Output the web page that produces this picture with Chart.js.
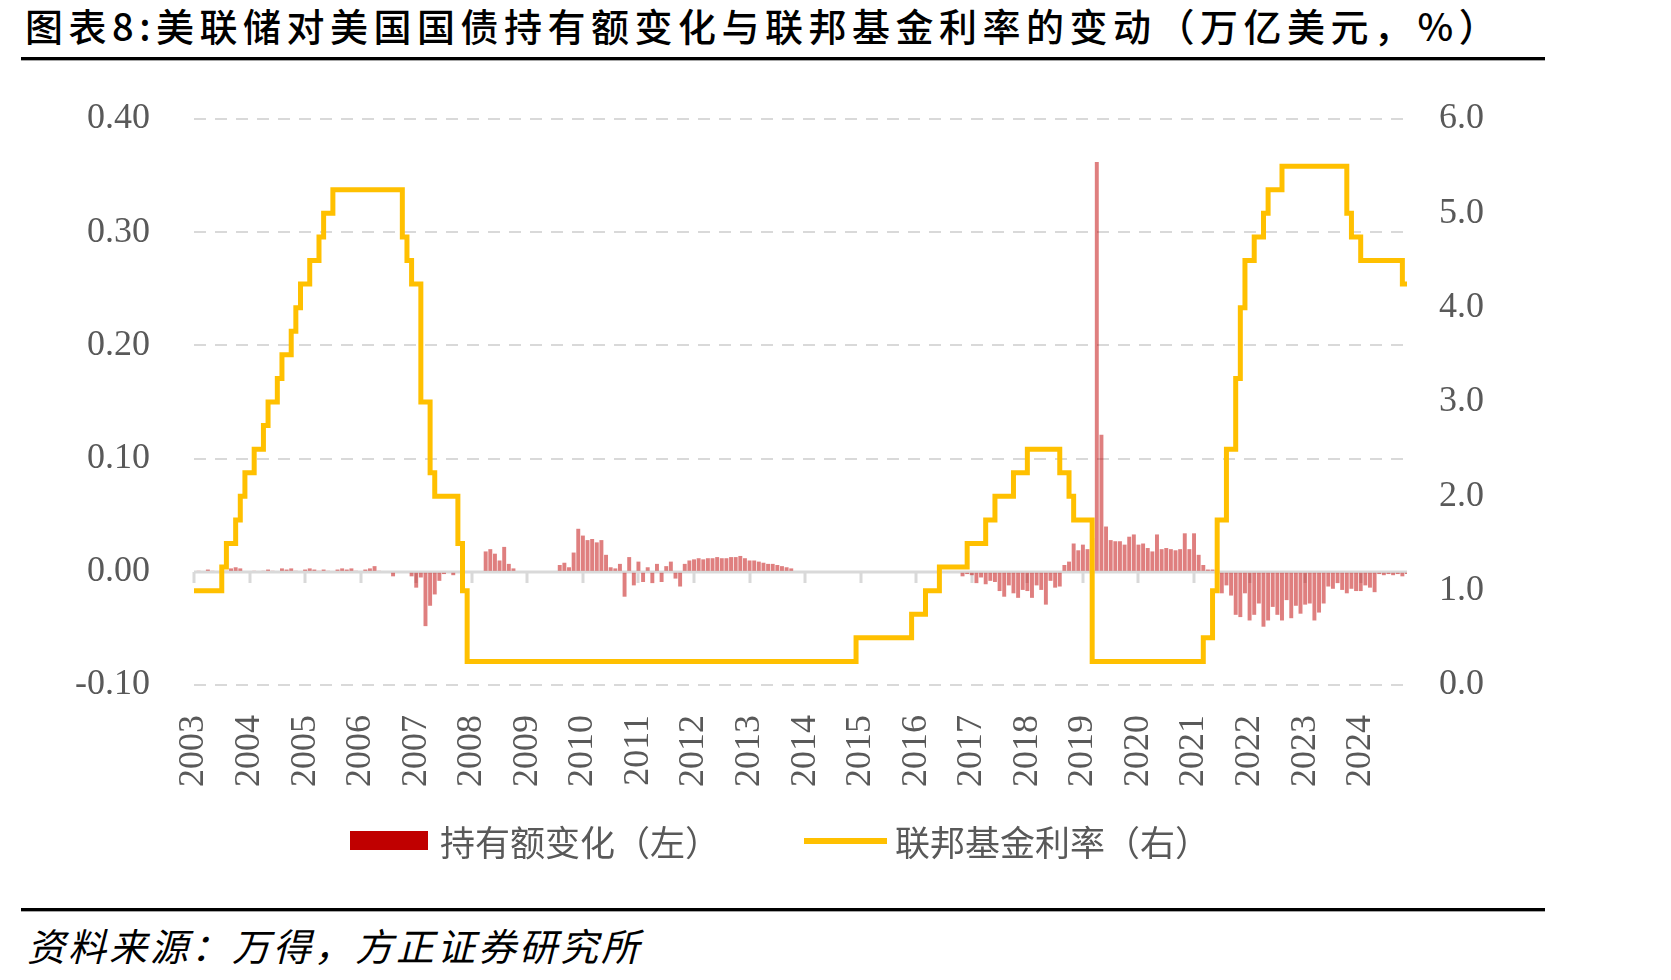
<!DOCTYPE html>
<html>
<head>
<meta charset="utf-8">
<script src="https://cdn.jsdelivr.net/npm/chart.js@4.4.1/dist/chart.umd.min.js"></script>
<style>
  body { margin: 0; width: 1671px; height: 980px; background: #fff; position: relative; overflow: hidden;
         font-family: "Noto Sans CJK SC", sans-serif; }
  #title { position: absolute; left: 25px; top: 6px; font-size: 38px; line-height: 38px; letter-spacing: 5.5px;
           font-weight: 500; color: #000; white-space: nowrap; }
  .rule { position: absolute; left: 21px; width: 1524px; height: 3px; background: #000; border-bottom: 1px solid #a6a6a6; }
  #chart { position: absolute; left: 0; top: 0; }
  .key { position: absolute; }
  .keyText { position: absolute; top: 823px; font-size: 35px; line-height: 35px; color: #595959; white-space: nowrap; }
  #source { position: absolute; left: 27px; top: 926px; font-size: 38px; line-height: 38px; letter-spacing: 3px;
            font-style: italic; color: #000; white-space: nowrap; }
</style>
</head>
<body>
<div id="title">图表8:美联储对美国国债持有额变化与联邦基金利率的变动（万亿美元，%）</div>
<div class="rule" style="top:57px"></div>
<canvas id="chart" width="1671" height="832"></canvas>
<div class="key" style="left:350px; top:831px; width:78px; height:19px; background:#C00000"></div>
<div class="keyText" style="left:440px">持有额变化（左）</div>
<div class="key" style="left:804px; top:838px; width:83px; height:6px; background:#FFC000"></div>
<div class="keyText" style="left:895px">联邦基金利率（右）</div>
<div class="rule" style="top:908px"></div>
<div id="source">资料来源：万得，方正证券研究所</div>

<script>
// year tick labels, one every 12 months
const yearLabels = ['2003', '2004', '2005', '2006', '2007', '2008', '2009', '2010', '2011', '2012', '2013',
  '2014', '2015', '2016', '2017', '2018', '2019', '2020', '2021', '2022', '2023', '2024'];

// change in Fed treasury holdings, trillion USD (one value per month)
const holdingsChange = [
  0.001, 0.001, 0, 0.002, 0.001, 0, 0.001, 0.001, 0.003, 0.004, 0.003, 0,
  0, 0.001, 0, 0.001, 0.002, 0.001, 0, 0.003, 0.002, 0.003, 0.001, 0,
  0.002, 0.003, 0.002, 0.001, 0.002, 0.001, 0, 0.002, 0.003, 0.002, 0.003, 0.001,
  0, 0.002, 0.003, 0.005, 0.001, 0, 0, -0.004, 0, 0, 0, -0.004,
  -0.014, -0.005, -0.048, -0.03, -0.02, -0.008, -0.002, 0, -0.003, 0, 0, 0,
  0, 0, 0, 0.018, 0.02, 0.016, 0.01, 0.022, 0.007, 0.003, 0, 0,
  0, 0, 0, 0, 0, 0, 0, 0.006, 0.008, 0.004, 0.017, 0.038,
  0.032, 0.028, 0.029, 0.026, 0.028, 0.015, 0.004, 0.003, 0.007, -0.022, 0.013, -0.012,
  0.009, -0.009, 0.004, -0.01, 0.007, -0.009, 0.005, 0.009, -0.006, -0.013, 0.007, 0.01,
  0.011, 0.012, 0.011, 0.012, 0.012, 0.013, 0.012, 0.012, 0.013, 0.013, 0.014, 0.012,
  0.01, 0.01, 0.009, 0.008, 0.007, 0.007, 0.006, 0.005, 0.004, 0.003, 0, 0,
  0, 0, 0, 0, 0, 0, 0, 0, 0, 0, 0, 0,
  0, 0, 0, 0, 0, 0, 0, 0, 0, 0, 0, 0,
  0, 0, 0, 0, 0, 0, 0, 0, 0, 0, -0.004, -0.002,
  -0.003, -0.01, -0.005, -0.011, -0.008, -0.009, -0.017, -0.022, -0.012, -0.019, -0.023, -0.016,
  -0.017, -0.023, -0.012, -0.016, -0.029, -0.008, -0.014, -0.013, 0.006, 0.009, 0.025, 0.019,
  0.024, 0.02, 0.03, 0.362, 0.121, 0.04, 0.028, 0.027, 0.027, 0.024, 0.031, 0.033,
  0.024, 0.025, 0.021, 0.018, 0.033, 0.02, 0.021, 0.02, 0.019, 0.02, 0.034, 0.02,
  0.034, 0.015, 0.006, 0.002, 0.002, 0.001, -0.019, -0.012, -0.021, -0.038, -0.04, -0.019,
  -0.043, -0.038, -0.028, -0.0485, -0.043, -0.031, -0.038, -0.043, -0.025, -0.041, -0.03, -0.037,
  -0.029, -0.028, -0.043, -0.036, -0.028, -0.013, -0.015, -0.01, -0.016, -0.019, -0.015, -0.017,
  -0.017, -0.012, -0.014, -0.018, -0.002, -0.003, -0.002, -0.003, -0.002, -0.004, -0.002
];

// federal funds target rate (upper bound), %
const fedFundsRate = [
  1, 1, 1, 1, 1, 1, 1.25, 1.5, 1.5, 1.75, 2, 2.25,
  2.25, 2.5, 2.5, 2.75, 3, 3, 3.25, 3.5, 3.5, 3.75, 4, 4.25,
  4.25, 4.5, 4.5, 4.75, 5, 5, 5.25, 5.25, 5.25, 5.25, 5.25, 5.25,
  5.25, 5.25, 5.25, 5.25, 5.25, 5.25, 5.25, 5.25, 5.25, 4.75, 4.5, 4.25,
  4.25, 3, 3, 2.25, 2, 2, 2, 2, 2, 1.5, 1, 0.25,
  0.25, 0.25, 0.25, 0.25, 0.25, 0.25, 0.25, 0.25, 0.25, 0.25, 0.25, 0.25,
  0.25, 0.25, 0.25, 0.25, 0.25, 0.25, 0.25, 0.25, 0.25, 0.25, 0.25, 0.25,
  0.25, 0.25, 0.25, 0.25, 0.25, 0.25, 0.25, 0.25, 0.25, 0.25, 0.25, 0.25,
  0.25, 0.25, 0.25, 0.25, 0.25, 0.25, 0.25, 0.25, 0.25, 0.25, 0.25, 0.25,
  0.25, 0.25, 0.25, 0.25, 0.25, 0.25, 0.25, 0.25, 0.25, 0.25, 0.25, 0.25,
  0.25, 0.25, 0.25, 0.25, 0.25, 0.25, 0.25, 0.25, 0.25, 0.25, 0.25, 0.25,
  0.25, 0.25, 0.25, 0.25, 0.25, 0.25, 0.25, 0.25, 0.25, 0.25, 0.25, 0.5,
  0.5, 0.5, 0.5, 0.5, 0.5, 0.5, 0.5, 0.5, 0.5, 0.5, 0.5, 0.75,
  0.75, 0.75, 1, 1, 1, 1.25, 1.25, 1.25, 1.25, 1.25, 1.25, 1.5,
  1.5, 1.5, 1.5, 1.75, 1.75, 2, 2, 2, 2, 2.25, 2.25, 2.25,
  2.5, 2.5, 2.5, 2.5, 2.5, 2.5, 2.5, 2.25, 2.25, 2, 1.75, 1.75,
  1.75, 1.75, 0.25, 0.25, 0.25, 0.25, 0.25, 0.25, 0.25, 0.25, 0.25, 0.25,
  0.25, 0.25, 0.25, 0.25, 0.25, 0.25, 0.25, 0.25, 0.25, 0.25, 0.25, 0.25,
  0.25, 0.25, 0.5, 0.5, 1, 1.75, 1.75, 2.5, 2.5, 3.25, 4, 4.5,
  4.5, 4.75, 4.75, 5, 5.25, 5.25, 5.25, 5.5, 5.5, 5.5, 5.5, 5.5,
  5.5, 5.5, 5.5, 5.5, 5.5, 5.5, 5.5, 5.5, 5.5, 5, 4.75, 4.75,
  4.5, 4.5, 4.5, 4.5, 4.5, 4.5, 4.5, 4.5, 4.5, 4.25, 4.25
];

const months = fedFundsRate.map((_, i) => i);

const tickFont = { family: "'Liberation Serif', 'Times New Roman', serif", size: 36 };
const grey = '#595959';

// zero line with year tick marks, as in the original
const zeroLine = {
  id: 'zeroLine',
  beforeDatasetsDraw(chart) {
    const { ctx, chartArea, scales } = chart;
    const y0 = Math.round(scales.y.getPixelForValue(0));
    ctx.save();
    ctx.strokeStyle = '#D9D9D9';
    ctx.lineWidth = 3;
    ctx.beginPath();
    ctx.moveTo(chartArea.left, y0);
    ctx.lineTo(chartArea.right, y0);
    yearLabels.forEach((_, k) => {
      const x = Math.round(scales.x.getPixelForValue(k * 12));
      ctx.moveTo(x, y0);
      ctx.lineTo(x, y0 + 11);
    });
    ctx.stroke();
    ctx.restore();
  }
};

new Chart(document.getElementById('chart'), {
  type: 'bar',
  data: {
    labels: months,
    datasets: [
      {
        type: 'line',
        label: '联邦基金利率（右）',
        data: fedFundsRate,
        yAxisID: 'y1',
        borderColor: '#FFC000',
        borderWidth: 5,
        pointRadius: 0,
        stepped: true,
        fill: false,
        order: 0
      },
      {
        label: '持有额变化（左）',
        data: holdingsChange,
        yAxisID: 'y',
        backgroundColor: 'rgba(192, 0, 0, 0.5)',
        barPercentage: 0.85,
        categoryPercentage: 1,
        order: 1
      }
    ]
  },
  options: {
    responsive: false,
    animation: false,
    devicePixelRatio: 1,
    events: [],
    layout: { padding: { left: 31, right: 155, top: 119, bottom: 23 } },
    plugins: {
      legend: { display: false },
      tooltip: { enabled: false }
    },
    scales: {
      x: {
        offset: false,
        grid: { display: false },
        border: { display: false },
        ticks: {
          autoSkip: false,
          minRotation: 90,
          maxRotation: 90,
          padding: 22,
          color: grey,
          font: tickFont,
          callback: (v, i) => (i % 12 === 0 ? yearLabels[i / 12] : '')
        }
      },
      y: {
        position: 'left',
        min: -0.1,
        max: 0.4,
        grid: { color: '#D9D9D9', lineWidth: 2, drawTicks: false },
        border: { display: false, dash: [12, 9] },
        ticks: {
          stepSize: 0.1,
          padding: 44,
          color: grey,
          font: tickFont,
          callback: v => v.toFixed(2)
        }
      },
      y1: {
        position: 'right',
        min: 0,
        max: 6,
        grid: { display: false, drawTicks: false },
        border: { display: false },
        ticks: {
          stepSize: 1,
          padding: 32,
          color: grey,
          font: tickFont,
          callback: v => v.toFixed(1)
        }
      }
    }
  },
  plugins: [zeroLine]
});
</script>
</body>
</html>
